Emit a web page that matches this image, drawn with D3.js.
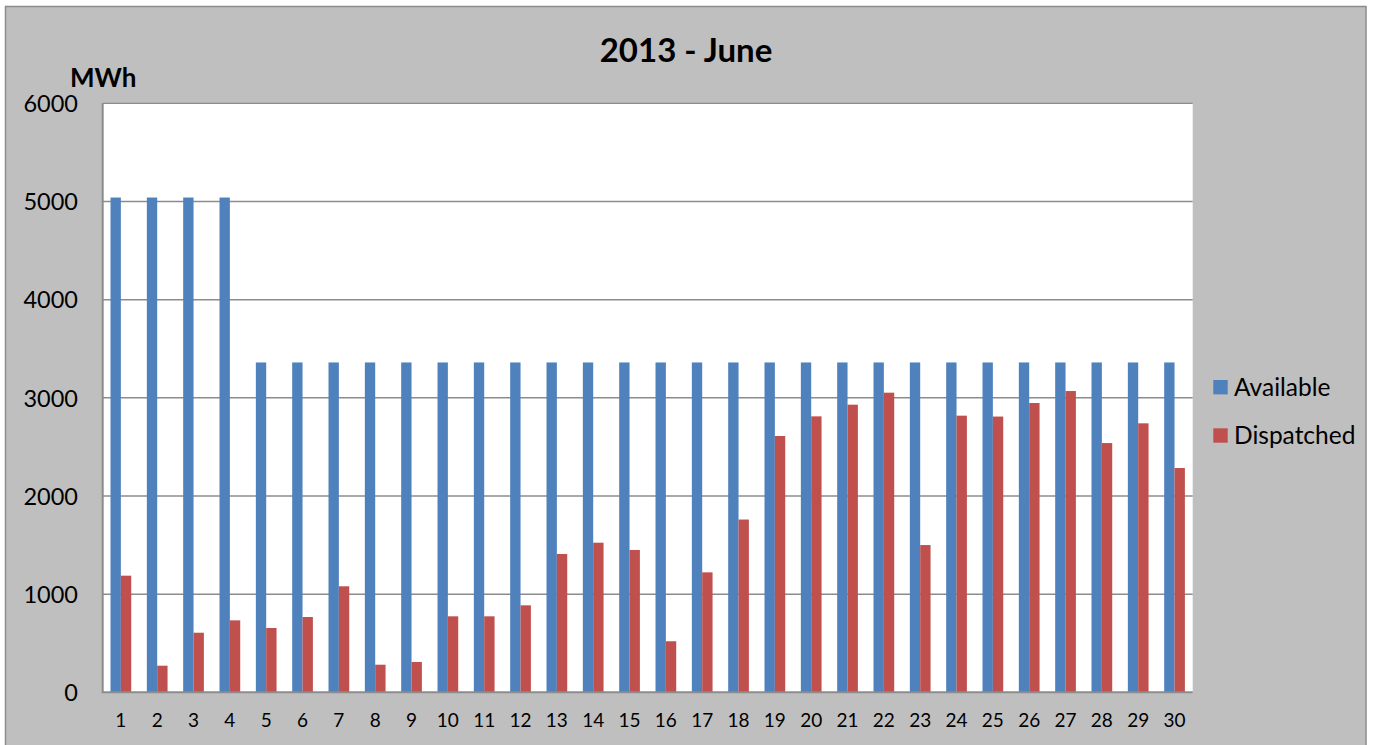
<!DOCTYPE html>
<html>
<head>
<meta charset="utf-8">
<script src="https://cdn.jsdelivr.net/npm/d3@7"></script>
<style>
  html, body { margin: 0; padding: 0; background: #ffffff; }
  svg { display: block; }
</style>
</head>
<body>
<svg id="chart" width="1375" height="745"></svg>
<script>
const days = ["1","2","3","4","5","6","7","8","9","10","11","12","13","14","15","16","17","18","19","20","21","22","23","24","25","26","27","28","29","30"];
const available = [5040,5040,5040,5040,3360,3360,3360,3360,3360,3360,3360,3360,3360,3360,3360,3360,3360,3360,3360,3360,3360,3360,3360,3360,3360,3360,3360,3360,3360,3360];
const dispatched = [1188,271,607,733,655,767,1080,281,309,774,774,886,1409,1524,1450,520,1222,1760,2611,2811,2930,3052,1500,2818,2809,2947,3069,2539,2740,2285];
const seriesNames = ["Available","Dispatched"];
const seriesColors = ["#4f81bd","#c0504d"];
const yTicks = [0,1000,2000,3000,4000,5000,6000];
const titleText = "2013 - June";
const yUnit = "MWh";

const svg = d3.select("#chart");
const FONT = "Lato, 'Open Sans', sans-serif";

// chart area background
svg.append("rect").attr("x",5.5).attr("y",6.5).attr("width",1360.5).attr("height",745)
  .attr("fill","#bfbfbf").attr("stroke","#8c8c8c").attr("stroke-width",1.5);

const plot = {left:102.7, right:1192.7, top:103.3, bottom:692.3};

svg.append("rect").attr("x",plot.left).attr("y",plot.top)
  .attr("width",plot.right-plot.left).attr("height",plot.bottom-plot.top)
  .attr("fill","#ffffff");
svg.append("line").attr("x1",plot.left).attr("x2",plot.right).attr("y1",plot.top).attr("y2",plot.top)
  .attr("stroke","#8c8c8c").attr("stroke-width",1.2);

const y = d3.scaleLinear().domain([0,6000]).range([plot.bottom, plot.top]);
const x0 = d3.scaleBand().domain(days).range([plot.left, plot.right]).paddingInner(0.43).paddingOuter(0.215);
const x1 = d3.scaleBand().domain(seriesNames).range([0, x0.bandwidth()]);

// gridlines
svg.append("g").selectAll("line").data(yTicks.filter(d=>d>0 && d<6000)).join("line")
  .attr("x1",plot.left).attr("x2",plot.right)
  .attr("y1",d=>y(d)).attr("y2",d=>y(d))
  .attr("stroke","#8c8c8c").attr("stroke-width",1.5);

// bars
const rows = days.map((d,i)=>({day:d, vals:[available[i], dispatched[i]]}));
const g = svg.append("g");
rows.forEach(r=>{
  r.vals.forEach((v,j)=>{
    g.append("rect")
      .attr("x", x0(r.day)+x1(seriesNames[j]))
      .attr("y", y(v))
      .attr("width", x1.bandwidth())
      .attr("height", y(0)-y(v))
      .attr("fill", seriesColors[j]);
  });
});

// axes lines
svg.append("line").attr("x1",plot.left).attr("x2",plot.left).attr("y1",plot.top).attr("y2",plot.bottom)
  .attr("stroke","#8c8c8c").attr("stroke-width",2);
svg.append("line").attr("x1",plot.left-1).attr("x2",plot.right).attr("y1",plot.bottom).attr("y2",plot.bottom)
  .attr("stroke","#8c8c8c").attr("stroke-width",2);

// y axis labels
const yAxis = d3.axisLeft(y).tickValues(yTicks).tickSize(0).tickPadding(0).tickFormat(d3.format("d"));
const ya = svg.append("g").attr("transform",`translate(${78},0)`).call(yAxis);
ya.select(".domain").remove();
ya.selectAll("text").attr("font-family",FONT).attr("font-size",23.5).attr("fill","#000").attr("dy","0.35em");

// x axis labels
const xAxis = d3.axisBottom(x0).tickSize(0).tickPadding(0);
const xa = svg.append("g").attr("transform",`translate(0,${plot.bottom})`).call(xAxis);
xa.select(".domain").remove();
xa.selectAll("text").attr("font-family",FONT).attr("font-size",19).attr("fill","#000").attr("dy",null).attr("y",34.5);

// title
svg.append("text").attr("x",686).attr("y",62).attr("text-anchor","middle")
  .attr("font-family",FONT).attr("font-weight","bold").attr("font-size",33).attr("fill","#000").text(titleText);

// unit
svg.append("text").attr("x",70).attr("y",87)
  .attr("font-family",FONT).attr("font-weight","bold").attr("font-size",26).attr("fill","#000").text(yUnit);

// legend
const leg = svg.append("g");
seriesNames.forEach((n,i)=>{
  const yy = 380 + i*48.3;
  leg.append("rect").attr("x",1213.3).attr("y",yy).attr("width",14.4).attr("height",14.4).attr("fill",seriesColors[i]);
  leg.append("text").attr("x",1234).attr("y",yy+16)
    .attr("font-family",FONT).attr("font-size",24.5).attr("fill","#000").text(n);
});
</script>
</body>
</html>
